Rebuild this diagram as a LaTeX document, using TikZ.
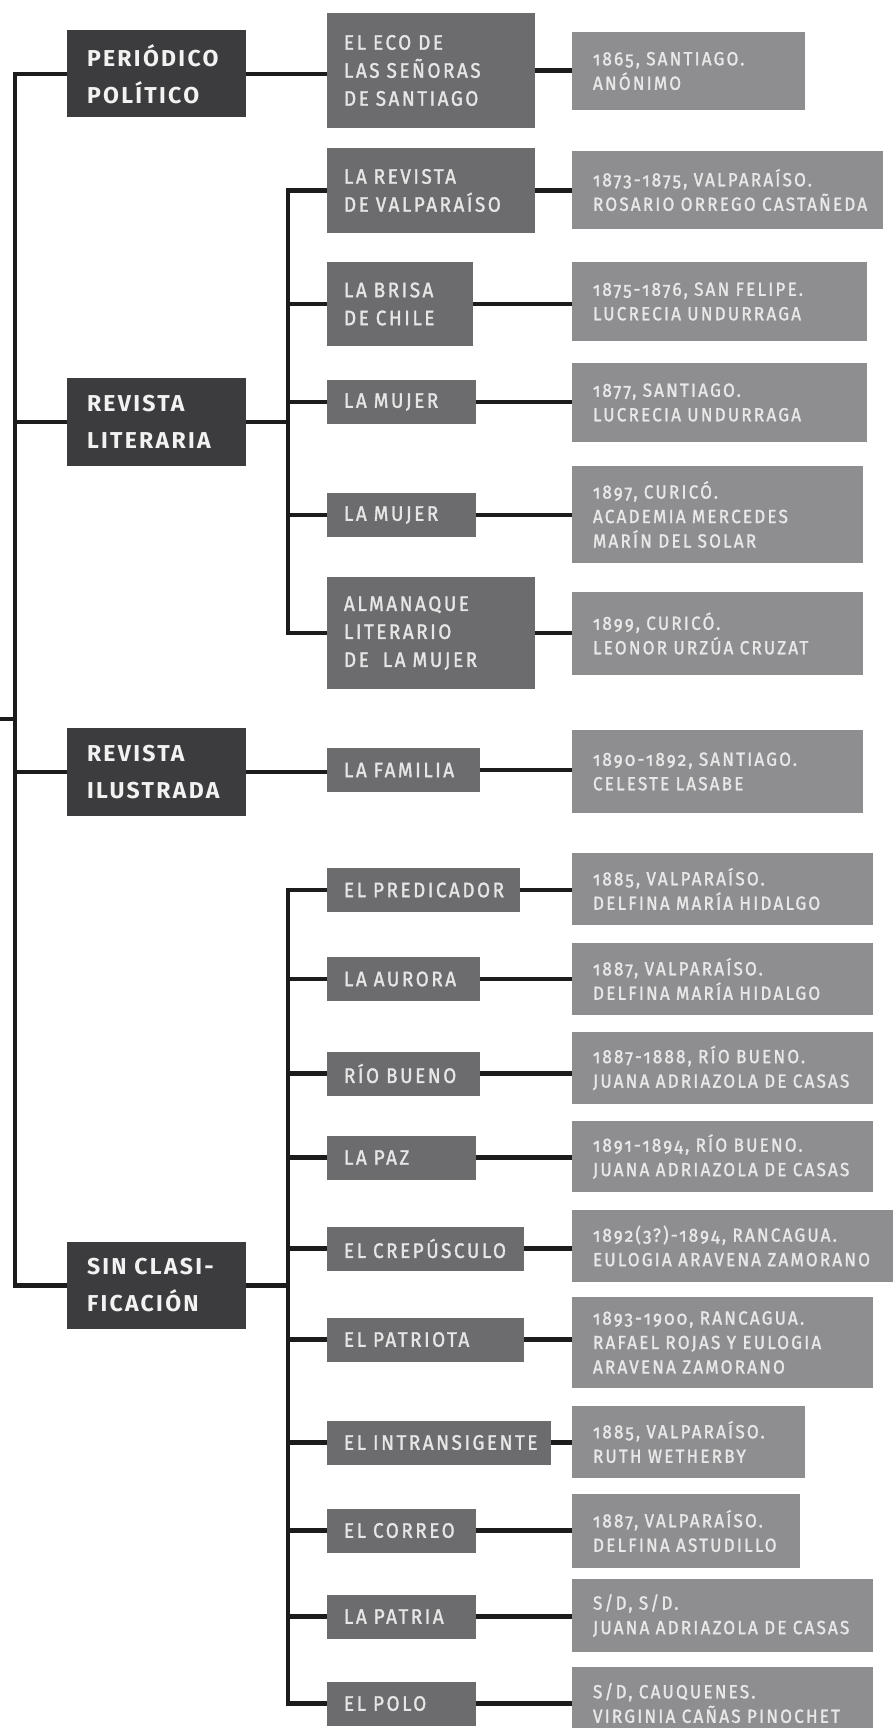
\documentclass[tikz,border=0pt]{standalone}
\usepackage{fontspec}
\setmainfont{Fira Sans}[Numbers=OldStyle]
\newfontfamily\fdarkfam{Fira Sans}[Numbers=OldStyle, LetterSpace=10, WordSpace=1.2]
\newfontfamily\fmidfam{Fira Sans}[Numbers=OldStyle, LetterSpace=12, WordSpace=1.7, FakeStretch=0.9, FakeBold=1.5]
\newfontfamily\flightfam{Fira Sans}[Numbers=OldStyle, LetterSpace=11.5, WordSpace=1.6, FakeStretch=0.9, FakeBold=1.5]
\newcommand\fdark{\fdarkfam\bfseries\fontsize{23pt}{37pt}\selectfont}
\newcommand\fmid{\fmidfam\fontsize{21pt}{28pt}\selectfont}
\newcommand\flight{\flightfam\fontsize{19pt}{24.5pt}\selectfont}
\definecolor{cdark}{HTML}{3C3C3E}
\definecolor{cmid}{HTML}{6C6C6E}
\definecolor{clight}{HTML}{8E8E90}
\definecolor{cline}{HTML}{1C1C1C}
\definecolor{tdark}{HTML}{F2F2F2}
\definecolor{tmid}{HTML}{E6E6E6}
\definecolor{tlight}{HTML}{E8E8E8}
\tikzset{
  box/.style={inner ysep=0pt, align=left, anchor=center,
    execute at begin node={\hyphenpenalty=10000 \exhyphenpenalty=10000 \hbadness=10000 \hfuzz=200pt}},
  dk/.style 2 args={box, inner xsep=20pt, fill=cdark, text=tdark, text width=#1pt, minimum height=#2pt, font=\fdark},
  md/.style 2 args={box, inner xsep=17pt, fill=cmid, text=tmid, text width=#1pt, minimum height=#2pt, font=\fmid},
  lt/.style 2 args={box, inner xsep=21pt, fill=clight, text=tlight, text width=#1pt, minimum height=#2pt, font=\flight},
  ln/.style={draw=cline, line width=4.5pt, line join=miter},
}
\begin{document}
\begin{tikzpicture}[x=1pt, y=-1pt]
\useasboundingbox (0,0) rectangle (893,1728);
\clip (0,0) rectangle (893,1728);
% category boxes
\node[dk={139}{87}] (PP) at (156.5,74) {PERIÓDICO\\POLÍTICO};
\node[dk={139}{88}] (RL) at (156.5,422) {REVISTA\\LITERARIA};
\node[dk={139}{88}] (RI) at (156.5,772) {REVISTA\\ILUSTRADA};
\node[dk={139}{87}] (SC) at (156.5,1285.5) {SIN~CLASI-\\FICACIÓN};
% publications
\node[md={174}{115}] (ECO) at (431,70.5) {EL~ECO~DE\\LAS~SEÑORAS\\DE~SANTIAGO};
\node[md={174}{85}] (RV) at (431,190.5) {LA~REVISTA\\DE~VALPARAÍSO};
\node[md={112}{84}] (BR) at (400,304) {LA~BRISA\\DE~CHILE};
\node[md={115}{44}] (M1) at (401.5,402) {LA~MUJER};
\node[md={115}{44}] (M2) at (401.5,515) {LA~MUJER};
\node[md={174}{112}] (AL) at (431,633) {ALMANAQUE\\LITERARIO\\DE~~LA~MUJER};
\node[md={119}{44}] (FAM) at (403.5,770) {LA~FAMILIA};
\node[md={159}{44}] (PRED) at (423.5,890) {EL~PREDICADOR};
\node[md={119}{44}] (AUR) at (403.5,979) {LA~AURORA};
\node[md={119}{44}] (RIO) at (403.5,1073.5) {RÍO~BUENO};
\node[md={115}{44}] (PAZ) at (401.5,1157.5) {LA~PAZ};
\node[md={163}{44}] (CREP) at (425.5,1248.5) {EL~CREPÚSCULO};
\node[md={163}{44}] (PAT) at (425.5,1339.5) {EL~PATRIOTA};
\node[md={190}{44}] (INT) at (439,1442.5) {EL~INTRANSIGENTE};
\node[md={115}{44}] (COR) at (401.5,1530.5) {EL~CORREO};
\node[md={115}{44}] (PATR) at (401.5,1616.5) {LA~PATRIA};
\node[md={115}{44}] (POLO) at (401.5,1703.5) {EL~POLO};
% details
\node[lt={191}{78}] (D1) at (688.5,71) {1865,~SANTIAGO.\\ANÓNIMO};
\node[lt={269}{78}] (D2) at (727.5,190) {1873-1875,~VALPARAÍSO.\\ROSARIO~ORREGO~CASTAÑEDA};
\node[lt={253}{79}] (D3) at (719.5,301.5) {1875-1876,~SAN~FELIPE.\\LUCRECIA~UNDURRAGA};
\node[lt={253}{79}] (D4) at (719.5,402.5) {1877,~SANTIAGO.\\LUCRECIA~UNDURRAGA};
\node[lt={249}{97}] (D5) at (717.5,514.5) {1897,~CURICÓ.\\ACADEMIA~MERCEDES\\MARÍN~DEL~SOLAR};
\node[lt={249}{83}] (D6) at (717.5,633.5) {1899,~CURICÓ.\\LEONOR~URZÚA~CRUZAT};
\node[lt={249}{83}] (D7) at (717.5,771.5) {1890-1892,~SANTIAGO.\\CELESTE~LASABE};
\node[lt={259}{72}] (D8) at (722.5,889) {1885,~VALPARAÍSO.\\DELFINA~MARÍA~HIDALGO};
\node[lt={259}{72}] (D9) at (722.5,979) {1887,~VALPARAÍSO.\\DELFINA~MARÍA~HIDALGO};
\node[lt={259}{72}] (D10) at (722.5,1068) {1887-1888,~RÍO~BUENO.\\JUANA~ADRIAZOLA~DE~CASAS};
\node[lt={259}{71}] (D11) at (722.5,1156.5) {1891-1894,~RÍO~BUENO.\\JUANA~ADRIAZOLA~DE~CASAS};
\node[lt={279}{72}] (D12) at (732.5,1246) {1892(3?)-1894,~RANCAGUA.\\EULOGIA~ARAVENA~ZAMORANO};
\node[lt={259}{91}] (D13) at (722.5,1342.5) {1893-1900,~RANCAGUA.\\RAFAEL~ROJAS~Y~EULOGIA\\ARAVENA~ZAMORANO};
\node[lt={191}{72}] (D14) at (688.5,1442) {1885,~VALPARAÍSO.\\RUTH~WETHERBY};
\node[lt={186}{74}] (D15) at (686,1531) {1887,~VALPARAÍSO.\\DELFINA~ASTUDILLO};
\node[lt={259}{73}] (D16) at (722.5,1615.5) {S/D,~S/D.\\JUANA~ADRIAZOLA~DE~CASAS};
\node[lt={259}{72}] (D17) at (722.5,1703) {S/D,~CAUQUENES.\\VIRGINIA~CAÑAS~PINOCHET};
% trunk and branches
\coordinate (trunk) at (15,0);
\coordinate (root) at (0,719);
\coordinate (b1) at (288,0);
\draw[ln] (PP.west) -| (trunk |- SC.west) -- (SC.west);
\draw[ln] (RL.west) -- (RL.west -| trunk);
\draw[ln] (RI.west) -- (RI.west -| trunk);
\draw[ln] (root) -- (root -| trunk);
\draw[ln] (PP.east) -- (PP.east -| ECO.west);
\draw[ln] (RI.east) -- (RI.east -| FAM.west);
% literaria branch
\draw[ln] (RV.west) -| (b1 |- AL.west) -- (AL.west);
\draw[ln] (RL.east) -- (RL.east -| b1);
\foreach \n in {BR,M1,M2} \draw[ln] (\n.west) -- (\n.west -| b1);
% sin clasificacion branch
\draw[ln] (PRED.west) -| (b1 |- POLO.west) -- (POLO.west);
\draw[ln] (SC.east) -- (SC.east -| b1);
\foreach \n in {AUR,RIO,PAZ,CREP,PAT,INT,COR,PATR} \draw[ln] (\n.west) -- (\n.west -| b1);
% publication to details
\foreach \a/\b in {ECO/D1,RV/D2,BR/D3,M1/D4,M2/D5,AL/D6,FAM/D7,PRED/D8,AUR/D9,RIO/D10,PAZ/D11,CREP/D12,PAT/D13,INT/D14,COR/D15,PATR/D16,POLO/D17}
  \draw[ln] (\a.east) -- (\a.east -| \b.west);
\end{tikzpicture}
\end{document}
